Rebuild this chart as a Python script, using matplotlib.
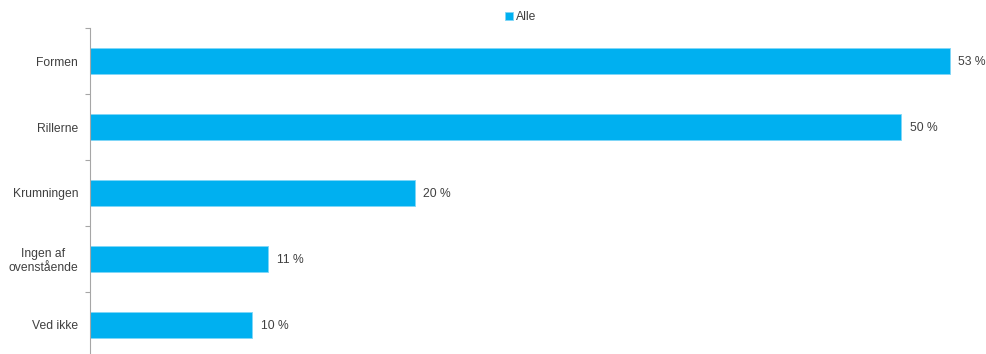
import matplotlib
matplotlib.use("Agg")
import matplotlib.pyplot as plt

categories = ["Formen", "Rillerne", "Krumningen", "Ingen af\novenstående", "Ved ikke"]
values = [53, 50, 20, 11, 10]
value_labels = ["53 %", "50 %", "20 %", "11 %", "10 %"]
series_name = "Alle"

plt.rcParams["font.family"] = ["Liberation Sans", "DejaVu Sans"]

W, H = 987, 354
fig = plt.figure(figsize=(W / 100, H / 100), dpi=100)
fig.patch.set_facecolor("white")

# axes: left edge at x=90px, top at y=28px, one band of 66px per category
left, top = 90, 28
band = 66
n = len(categories)
xmax = 55
px_per_unit = 860 / 53
ax = fig.add_axes([left / W, 1 - (top + band * n) / H,
                   xmax * px_per_unit / W, band * n / H])

bar_color = "#00B0F0"
text_color = "#404040"
fs = 8.7
pos = list(range(n))
ax.barh(pos, values, height=0.4, color=bar_color, edgecolor="#7FD6F7",
        linewidth=0.6, label=series_name)
ax.set_ylim(n - 0.5, -0.5)
ax.set_xlim(0, xmax)

for p, v, lab in zip(pos, values, value_labels):
    ax.annotate(lab, (v, p), xytext=(6, -0.5), textcoords="offset points",
                va="center", ha="left", fontsize=fs, color=text_color)

ax.set_yticks(pos)
ax.set_yticklabels(categories, fontsize=fs, color=text_color,
                   multialignment="center")
ax.tick_params(axis="y", length=0, pad=8.5)
ax.set_yticks([i - 0.5 for i in range(n + 1)], minor=True)
ax.tick_params(axis="y", which="minor", length=3.5, width=0.8,
               color="#A6A6A6", direction="out")
ax.set_xticks([])

for s in ("top", "right", "bottom"):
    ax.spines[s].set_visible(False)
ax.spines["left"].set_color("#A6A6A6")
ax.spines["left"].set_linewidth(0.8)

fig.legend(loc="center", bbox_to_anchor=(521 / W, 1 - 17 / H),
           frameon=False, fontsize=fs, handlelength=0.6, handleheight=0.6,
           handletextpad=0.3, labelcolor=text_color)

fig.savefig("out.png", dpi=100, facecolor="white")
